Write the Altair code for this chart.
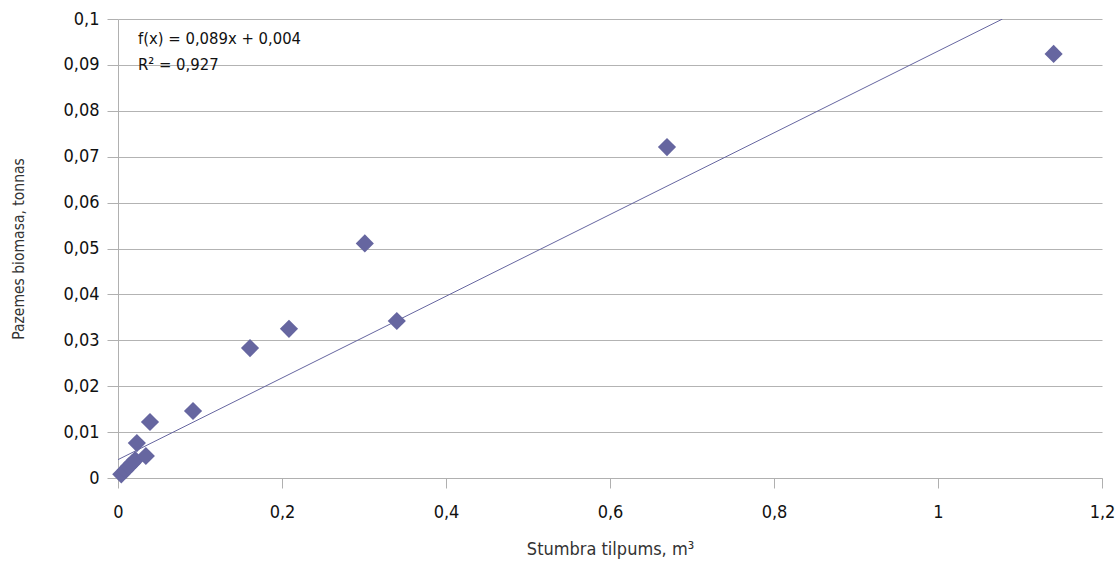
import altair as alt
import pandas as pd

# Stem volume (m³) vs. above-ground biomass (tonnes)
volume = [0.004, 0.009, 0.013, 0.017, 0.021, 0.023, 0.034, 0.039, 0.0915,
          0.161, 0.2085, 0.301, 0.340, 0.6695, 1.141]
biomass = [0.0008, 0.0017, 0.0025, 0.0032, 0.0039, 0.0076, 0.0048, 0.0122, 0.0146,
           0.0283, 0.0325, 0.0511, 0.0342, 0.0721, 0.0924]

# Linear trend f(x) = 0.089x + 0.004, drawn until it leaves the top of the plot
slope, intercept = 0.089, 0.004
trend_x = [0.0, (0.1 - intercept) / slope]
trend_y = [intercept + slope * v for v in trend_x]

x_ticks = [0, 0.2, 0.4, 0.6, 0.8, 1.0, 1.2]
y_ticks = [0, 0.01, 0.02, 0.03, 0.04, 0.05, 0.06, 0.07, 0.08, 0.09, 0.1]

eq_lines = ["f(x) = 0,089x + 0,004", "R² = 0,927"]

FONT = "DejaVu Sans Condensed, Roboto Condensed, Liberation Sans Narrow, Roboto, sans-serif"
MARK = "#6666a0"
label_expr = "replace(format(datum.value, '~g'), '.', ',')"

points = pd.DataFrame({"x": volume, "y": biomass})
trend = pd.DataFrame({"x": trend_x, "y": trend_y})

x_scale = alt.Scale(domain=[0, 1.2], nice=False, zero=True)
y_scale = alt.Scale(domain=[0, 0.1], nice=False)

x_axis = alt.Axis(values=x_ticks, labelExpr=label_expr, grid=False,
                  title="Stumbra tilpums, m³", titleFont=FONT, titleFontSize=18,
                  titleFontWeight="normal", titleColor="#333333", titlePadding=19,
                  labelFont=FONT, labelFontSize=18, labelColor="#111111",
                  labelPadding=15, tickSize=10, tickColor="#b0b0b0",
                  domainColor="#b0b0b0", labelFlush=False)
y_axis = alt.Axis(values=y_ticks, labelExpr=label_expr, grid=True,
                  gridColor="#b3b3b3", gridWidth=1.2,
                  title="Pazemes biomasa, tonnas", titleFont=FONT, titleFontSize=15.5,
                  titleFontWeight="normal", titleColor="#333333", titlePadding=36,
                  labelFont=FONT, labelFontSize=18, labelColor="#111111",
                  labelPadding=8, tickSize=11, tickColor="#b0b0b0",
                  domainColor="#b0b0b0", labelFlush=False)

base_pts = alt.Chart(points).mark_point(
    shape="diamond", filled=True, size=330, color=MARK, opacity=1
).encode(
    x=alt.X("x:Q", scale=x_scale, axis=x_axis),
    y=alt.Y("y:Q", scale=y_scale, axis=y_axis),
)

line = alt.Chart(trend).mark_line(color=MARK, strokeWidth=1, clip=True).encode(
    x=alt.X("x:Q", scale=x_scale), y=alt.Y("y:Q", scale=y_scale)
)


def eq_layer(text, ypos):
    return alt.Chart(pd.DataFrame({"t": [text]})).mark_text(
        align="left", baseline="middle", font=FONT, fontSize=16.5, color="#111111"
    ).encode(x=alt.value(20), y=alt.value(ypos), text="t:N")


chart = alt.layer(
    line, base_pts, eq_layer(eq_lines[0], 20), eq_layer(eq_lines[1], 46)
).properties(
    width=984, height=459,
    padding={"left": 118, "top": 19, "right": 15, "bottom": 89},
    autosize=alt.AutoSizeParams(type="none"),
    background="white",
).configure_view(stroke=None)

chart.save("out.html", embed_options={"renderer": "svg", "actions": False})
